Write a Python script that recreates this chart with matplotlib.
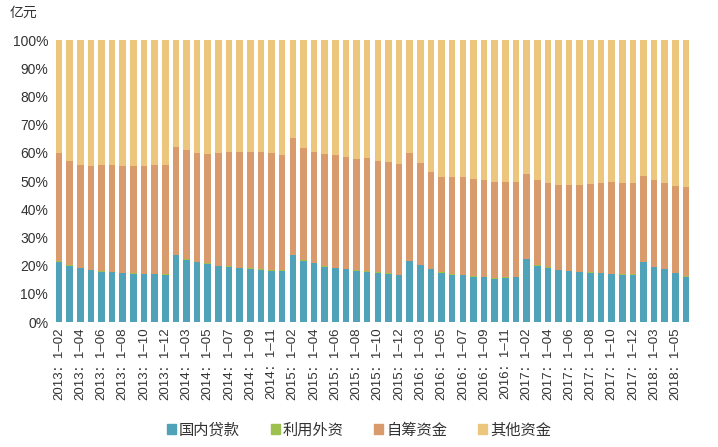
import matplotlib
matplotlib.use("Agg")
import matplotlib.pyplot as plt
import numpy as np

plt.rcParams['font.family'] = ['Liberation Sans', 'Noto Sans CJK SC', 'DejaVu Sans']

# Period labels (cumulative Jan-to-month)
periods = []
for yr in [2013, 2014, 2015, 2016, 2017]:
    for m in range(2, 13):
        periods.append(f"{yr}：1–{m:02d}")
for m in range(2, 7):
    periods.append(f"2018：1–{m:02d}")

# Share of domestic loans (%)
domestic_loans = [21.4, 20.0, 19.0, 18.4, 17.8, 17.7, 17.3, 17.1, 17.0, 16.9, 16.7,
                  23.6, 22.1, 21.2, 20.6, 19.7, 19.6, 19.1, 18.9, 18.6, 18.2, 18.1,
                  23.6, 21.7, 20.9, 19.6, 19.0, 18.8, 18.2, 17.8, 17.5, 17.1, 16.6,
                  21.6, 20.2, 18.7, 17.5, 16.8, 16.6, 16.1, 15.8, 15.4, 15.7, 15.9,
                  22.3, 20.0, 19.3, 18.4, 18.1, 17.7, 17.5, 17.3, 17.1, 16.8, 16.8,
                  21.3, 19.5, 18.7, 17.4, 16.1]
# Share of foreign investment (%)
foreign_capital = [0.2, 0.2, 0.2, 0.2, 0.2, 0.2, 0.2, 0.2, 0.2, 0.2, 0.2,
                   0.2, 0.2, 0.2, 0.2, 0.2, 0.2, 0.2, 0.2, 0.2, 0.2, 0.2,
                   0.15, 0.15, 0.15, 0.15, 0.15, 0.15, 0.15, 0.15, 0.15, 0.15, 0.15,
                   0.1, 0.1, 0.1, 0.1, 0.1, 0.1, 0.1, 0.1, 0.1, 0.1, 0.1,
                   0.1, 0.1, 0.1, 0.1, 0.1, 0.1, 0.1, 0.1, 0.1, 0.1, 0.1,
                   0.05, 0.05, 0.05, 0.05, 0.05]
# Cumulative top of self-raised funds (%)
self_raised_top = [60.0, 57.2, 55.7, 55.3, 55.8, 55.6, 55.4, 55.4, 55.2, 55.8, 55.6,
                   62.2, 61.0, 60.0, 59.7, 60.0, 60.3, 60.3, 60.3, 60.3, 60.0, 59.3,
                   65.1, 61.8, 60.4, 59.6, 59.4, 58.6, 57.9, 58.0, 57.2, 56.6, 55.9,
                   60.0, 56.5, 53.3, 51.5, 51.6, 51.5, 50.7, 50.4, 49.7, 49.8, 49.6,
                   52.6, 50.4, 49.2, 48.6, 48.7, 48.6, 48.8, 49.4, 49.7, 49.4, 49.2,
                   51.9, 50.4, 49.2, 48.2, 48.0]

dl = np.array(domestic_loans)
fc = np.array(foreign_capital)
sr = np.array(self_raised_top) - dl - fc
ot = 100 - dl - fc - sr

names = ['国内贷款', '利用外资', '自筹资金', '其他资金']
colors = ['#4FA2B7', '#9DC04E', '#D99B6B', '#ECC67C']

fig = plt.figure(figsize=(7.18, 4.47), dpi=100)
ax = fig.add_axes([0.0748, 0.2796, 0.888, 0.6309])
x = np.arange(len(periods))
w = 0.62
bottom = np.zeros(len(periods))
for vals, c, n in zip([dl, fc, sr, ot], colors, names):
    ax.bar(x, vals, w, bottom=bottom, color=c, label=n, linewidth=0)
    bottom = bottom + vals

ax.set_xlim(-0.5, len(periods) - 0.5)
ax.set_ylim(0, 100)
ax.set_yticks(np.arange(0, 101, 10))
ax.set_yticklabels([f"{v}%" for v in range(0, 101, 10)], fontsize=10, color='#333333')
ax.set_xticks(x[::2])
ax.set_xticklabels(periods[::2], rotation=90, fontsize=9.5, color='#333333')
for s in ax.spines.values():
    s.set_visible(False)
ax.tick_params(axis='both', length=0, pad=4)

fig.text(0.014, 0.972, '亿元', fontsize=10, color='#333333', va='center')

handles = [plt.Rectangle((0, 0), 1, 1, color=c) for c in colors]
fig.legend(handles, names, loc='center', bbox_to_anchor=(0.5, 0.037), ncol=4,
           frameon=False, fontsize=11, handlelength=0.6, handleheight=0.6,
           columnspacing=2.0, handletextpad=0.2, labelcolor='#333333')

fig.savefig('out.png', dpi=100)
